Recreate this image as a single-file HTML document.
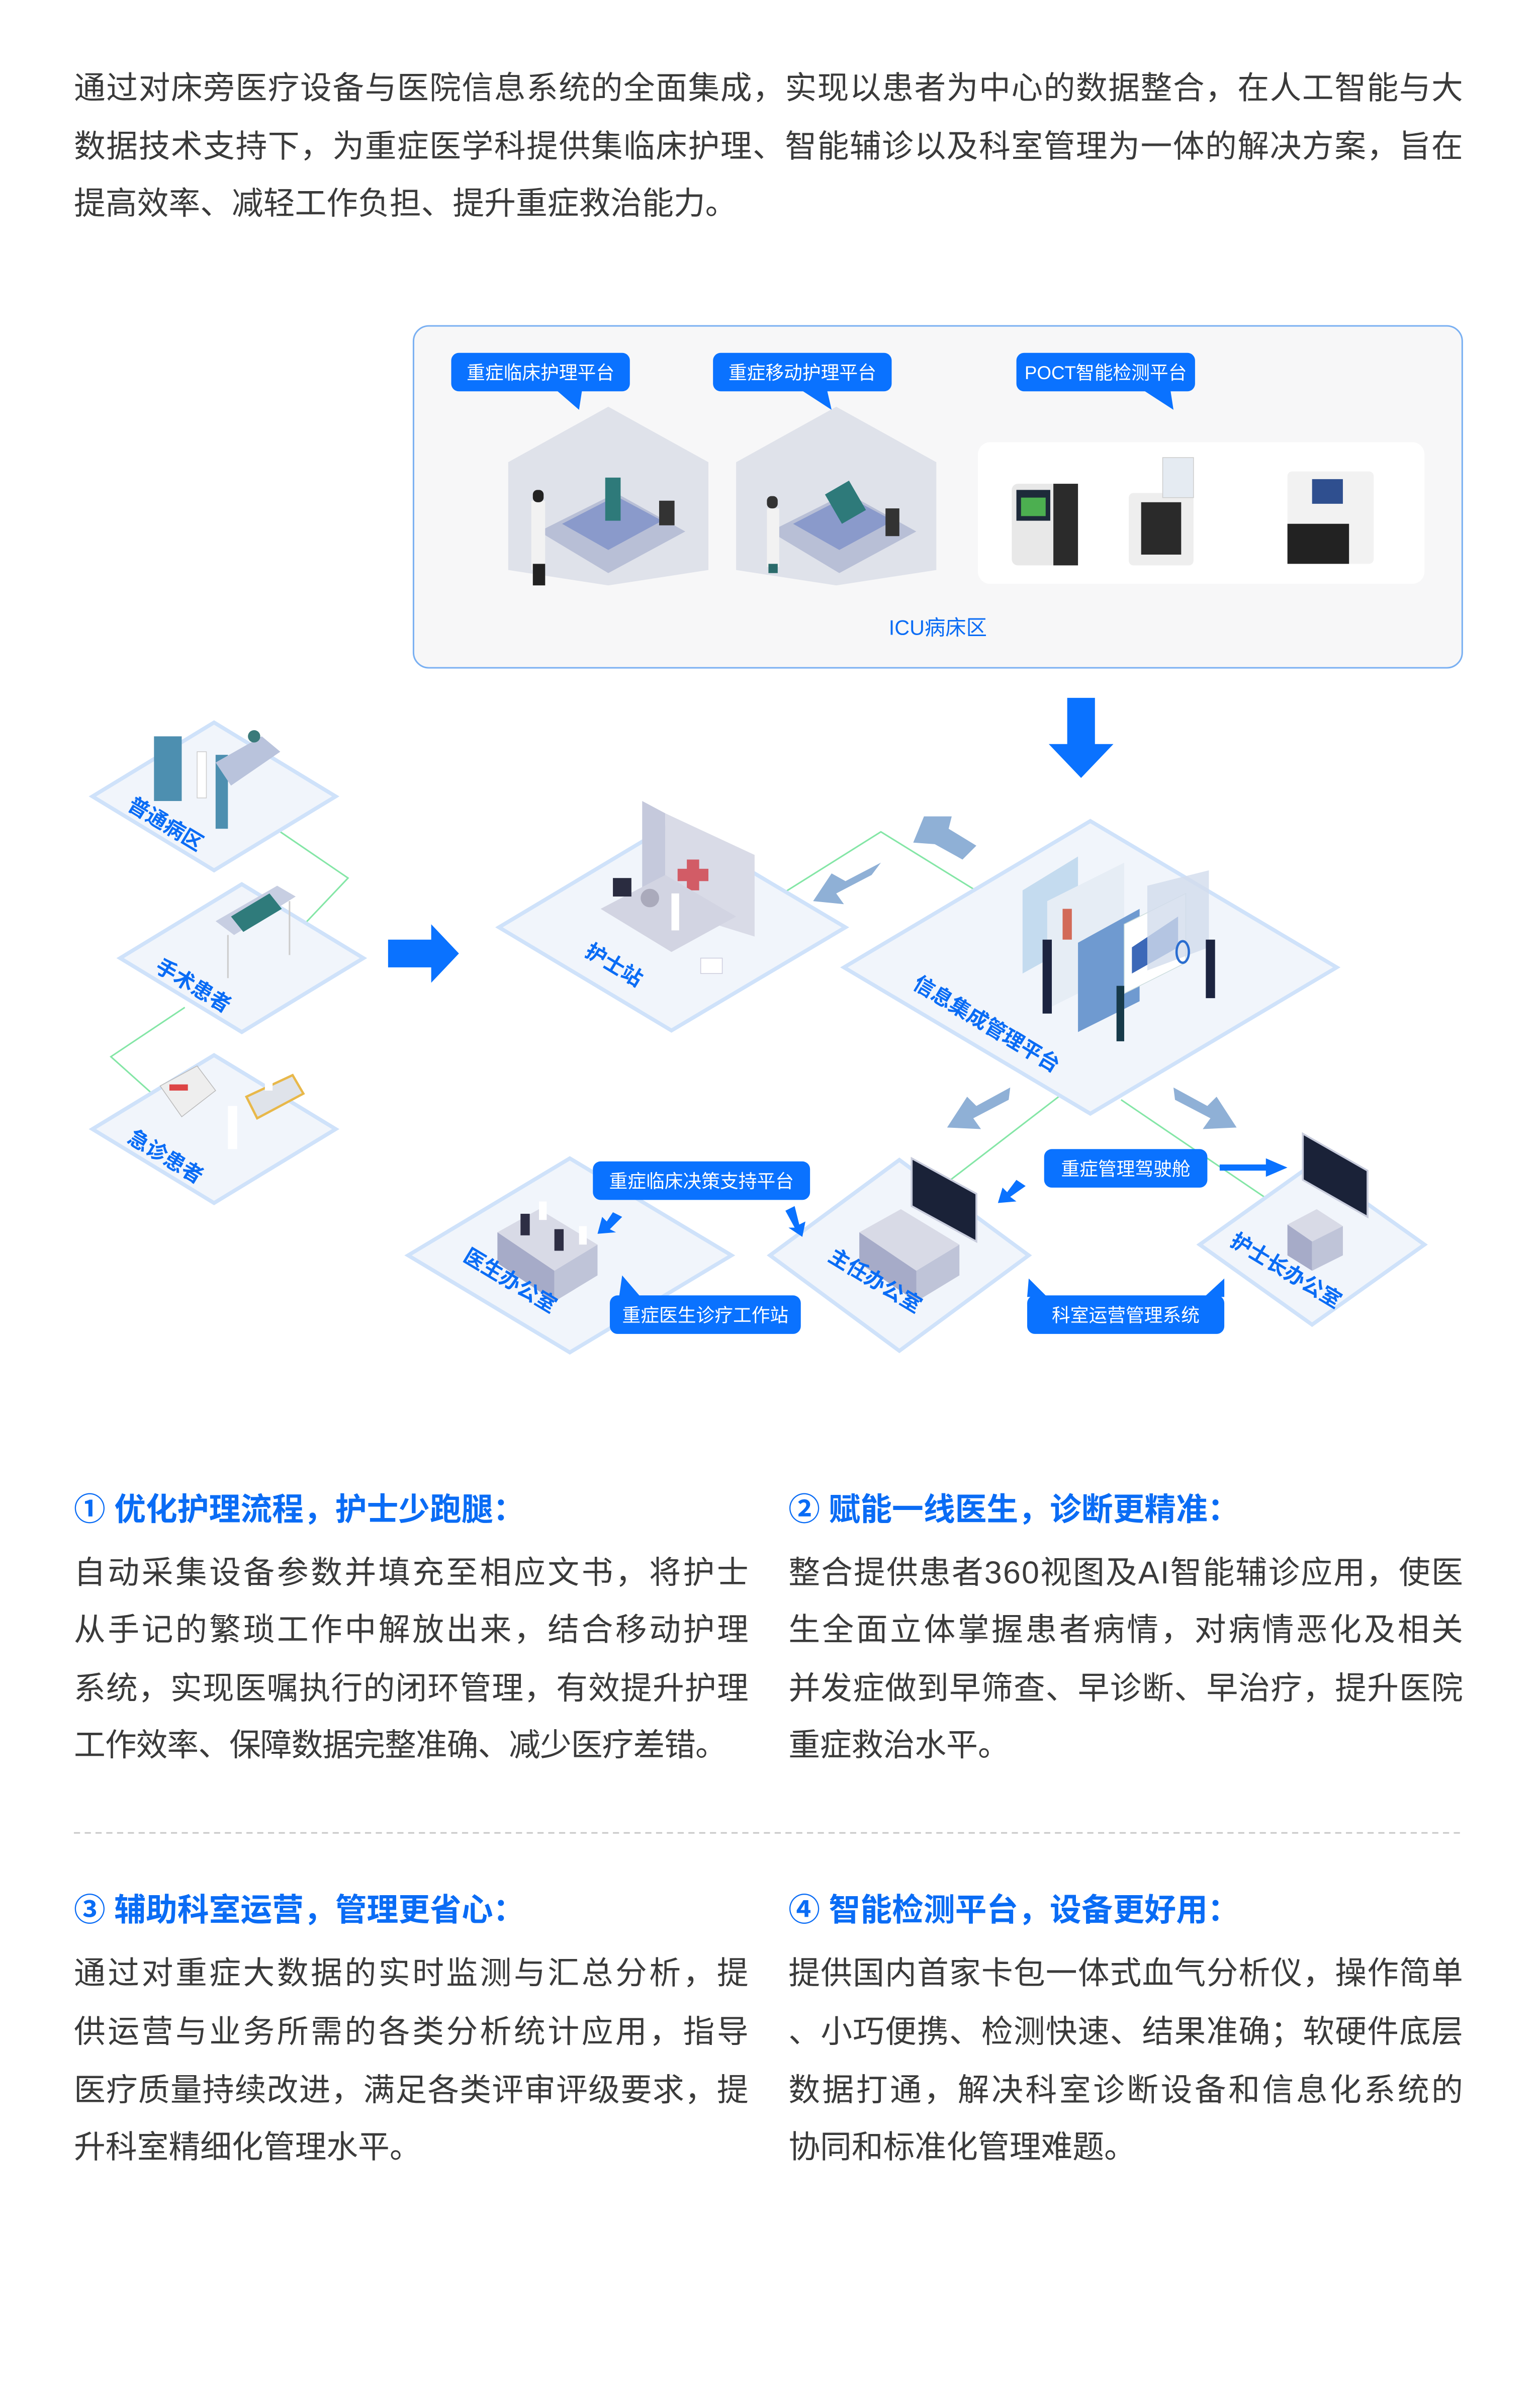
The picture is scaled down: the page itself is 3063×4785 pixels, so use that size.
<!DOCTYPE html>
<html><head><meta charset="utf-8">
<style>
html,body{margin:0;padding:0;background:#fff;}
body{width:3063px;height:4785px;overflow:hidden;}
svg{display:block;}
text{font-family:"Liberation Sans","Noto Sans CJK SC",sans-serif;}
.b{fill:#3a3a3a;font-size:20.5px;}
.h{fill:#0a6cf5;font-size:20.5px;font-weight:bold;}
.pill{fill:#fff;font-size:12px;}
.lab{fill:#0a6cf5;font-size:13.5px;font-weight:bold;}
</style></head><body>
<svg width="3063" height="4785" viewBox="0 0 1000 1562" xmlns="http://www.w3.org/2000/svg">
<defs>
<marker id="m" markerWidth="1" markerHeight="1"/>
</defs>
<!-- intro -->
<text class="b" x="48" y="64" textLength="902">通过对床旁医疗设备与医院信息系统的全面集成，实现以患者为中心的数据整合，在人工智能与大</text>
<text class="b" x="48" y="102" textLength="902">数据技术支持下，为重症医学科提供集临床护理、智能辅诊以及科室管理为一体的解决方案，旨在</text>
<text class="b" x="48" y="139">提高效率、减轻工作负担、提升重症救治能力。</text>

<!-- ICU box -->
<rect x="268.5" y="211.5" width="681" height="222" rx="10" fill="#f7f7f8" stroke="#7ab0f2" stroke-width="1"/>
<!-- wards -->
<polygon points="330,300 395,264 460,300 460,370 395,380 330,370" fill="#dfe2ea"/>
<polygon points="478,300 543,264 608,300 608,370 543,380 478,370" fill="#dfe2ea"/>
<g fill="#b8bfd6">
<polygon points="350,345 400,320 445,345 395,372"/>
<polygon points="500,345 550,320 595,345 545,372"/>
</g>
<g fill="#8a9acb"><polygon points="365,340 400,322 430,338 395,357"/><polygon points="515,340 550,322 580,338 545,357"/></g>
<rect x="345" y="325" width="9" height="45" fill="#f2f2f2"/><rect x="346" y="318" width="7" height="8" rx="3" fill="#222"/><rect x="346" y="366" width="8" height="14" fill="#222"/>
<rect x="498" y="330" width="8" height="38" fill="#f2f2f2"/><rect x="498" y="322" width="7" height="8" rx="3" fill="#333"/><rect x="499" y="366" width="6" height="6" fill="#2b6b6b"/>
<rect x="393" y="310" width="10" height="28" fill="#2e7a7a"/><rect x="540" y="315" width="18" height="22" fill="#2e7a7a" transform="rotate(-30 549 326)"/>
<rect x="428" y="325" width="10" height="16" fill="#333"/><rect x="575" y="330" width="9" height="18" fill="#333"/>
<!-- POCT -->
<rect x="635" y="287" width="290" height="92" rx="8" fill="#fff"/>
<rect x="657" y="314" width="43" height="53" rx="4" fill="#e8e8e8"/><rect x="684" y="314" width="16" height="53" fill="#2b2b2b"/><rect x="660" y="318" width="22" height="20" fill="#1d2a3a"/><rect x="663" y="323" width="16" height="12" fill="#4caf50"/>
<rect x="733" y="320" width="42" height="47" rx="3" fill="#eee"/><rect x="741" y="326" width="26" height="34" fill="#2a2a2a"/><rect x="755" y="297" width="20" height="26" fill="#e5ebf2" stroke="#ccc" stroke-width=".5"/>
<rect x="836" y="306" width="56" height="60" rx="3" fill="#f2f2f2"/><rect x="836" y="340" width="40" height="26" fill="#222"/><rect x="852" y="311" width="20" height="16" fill="#2f4f8f"/>
<!-- callouts -->
<g fill="#0a72ff">
<rect x="293" y="229" width="116" height="25" rx="5"/><polygon points="361,253 378,253 376,266"/>
<rect x="463" y="229" width="116" height="25" rx="5"/><polygon points="520,253 537,253 540,266"/>
<rect x="660" y="229" width="116" height="25" rx="5"/><polygon points="742,253 760,253 762,266"/>
</g>
<text class="pill" x="351" y="246" text-anchor="middle">重症临床护理平台</text>
<text class="pill" x="521" y="246" text-anchor="middle">重症移动护理平台</text>
<text class="pill" x="718" y="246" text-anchor="middle">POCT智能检测平台</text>
<text x="609" y="412" text-anchor="middle" fill="#0a6cf5" font-size="13.5">ICU病床区</text>

<!-- big arrows -->
<polygon points="693,453 711,453 711,483 723,483 702,505 681,483 693,483" fill="#0a72ff"/>
<polygon points="252,610 280,610 280,600 298,619 280,638 280,628 252,628" fill="#0a72ff"/>

<!-- green connectors -->
<g fill="none" stroke="#84e6a6" stroke-width="1">
<polyline points="182,540 226,570 190,608"/>
<polyline points="120,654 72,686 110,720"/>
<polyline points="505,582 572,540 640,582"/>
<polyline points="690,710 612,770"/>
<polyline points="728,714 840,790"/>
</g>

<!-- tiles -->
<g fill="#f1f5fb" stroke="#cfe2fa" stroke-width="2.5">
<polygon points="60,517 139,469 218,517 139,565"/>
<polygon points="78,622 157,574 236,622 157,670"/>
<polygon points="60,733 139,685 218,733 139,781"/>
<polygon points="324,602 436,535 549,602 436,669"/>
<polygon points="548,628 708,533 868,628 708,723"/>
<polygon points="265,815 370,752 475,815 370,878"/>
<polygon points="500,815 584,753 668,815 584,877"/>
<polygon points="779,808 852,756 925,808 852,860"/>
</g>

<!-- tile illustrations (simplified) -->
<rect x="100" y="478" width="18" height="42" fill="#4d8fb0"/><rect x="140" y="490" width="8" height="48" fill="#4d8fb0"/>
<polygon points="140,495 170,478 182,488 150,510" fill="#b9c3dc"/><rect x="128" y="488" width="6" height="30" fill="#fff" stroke="#ccc" stroke-width=".5"/><circle cx="165" cy="478" r="4" fill="#3a7a7a"/>
<polygon points="140,598 180,575 192,582 152,607" fill="#c7cee2"/><polygon points="150,595 175,580 183,590 158,605" fill="#2f7b7b"/><line x1="148" y1="607" x2="148" y2="635" stroke="#ccc"/><line x1="188" y1="585" x2="188" y2="620" stroke="#ccc"/>
<polygon points="104,705 128,692 140,708 118,725" fill="#eee" stroke="#bbb" stroke-width=".5"/><rect x="110" y="704" width="12" height="4" fill="#d44"/><polygon points="160,712 190,698 197,710 167,726" fill="#dfe3ea" stroke="#e8b84a" stroke-width="1.5"/><rect x="148" y="718" width="6" height="28" fill="#fff"/><rect x="172" y="684" width="5" height="24" fill="#fff"/>
<!-- nurse station -->
<polygon points="417,520 432,528 432,590 417,582" fill="#c5c9dc"/><polygon points="432,528 490,555 490,608 432,590" fill="#d9dbe7"/><rect x="446" y="558" width="8" height="20" fill="#d25c66"/><rect x="440" y="564" width="20" height="8" fill="#d25c66"/>
<polygon points="390,590 432,568 478,595 436,618" fill="#d2d4e2"/><rect x="398" y="570" width="12" height="12" fill="#2a2c40"/><circle cx="422" cy="583" r="6" fill="#aab"/><rect x="436" y="580" width="5" height="24" fill="#fff"/><rect x="455" y="622" width="14" height="10" fill="#fff" stroke="#ccd" stroke-width=".5"/>
<!-- info platform -->
<polygon points="664,578 700,556 700,612 664,632" fill="#bcd6ec" opacity=".85"/><polygon points="680,585 730,560 730,630 680,655" fill="#e6edf5"/><rect x="690" y="590" width="6" height="20" fill="#d26a58"/>
<polygon points="700,612 740,590 740,650 700,670" fill="#6f9ad0"/><polygon points="730,600 770,580 770,625 730,645" fill="#fff" stroke="#cdd" stroke-width=".5"/><polygon points="735,615 765,595 765,615 735,632" fill="#3c68b8"/>
<polygon points="745,575 785,565 785,615 745,630" fill="#d2dcec" opacity=".8"/><ellipse cx="768" cy="618" rx="4" ry="7" fill="none" stroke="#2a6dd0" stroke-width="1.5"/>
<rect x="677" y="610" width="6" height="48" fill="#1c2440"/><rect x="725" y="640" width="5" height="36" fill="#173a4a"/><rect x="783" y="610" width="6" height="38" fill="#1c2440"/>
<!-- offices -->
<polygon points="323,800 350,785 388,808 360,825" fill="#d8dae6"/><polygon points="323,800 360,825 360,845 323,820" fill="#a6abc8"/><polygon points="360,825 388,808 388,828 360,845" fill="#bfc4d8"/>
<rect x="338" y="788" width="6" height="14" fill="#2e2e44"/><rect x="360" y="798" width="6" height="14" fill="#2e2e44"/><rect x="350" y="780" width="5" height="12" fill="#fff"/><rect x="376" y="796" width="5" height="12" fill="#fff"/>
<polygon points="558,800 585,785 623,808 595,825" fill="#d8dae6"/><polygon points="558,800 595,825 595,845 558,820" fill="#a6abc8"/><polygon points="595,825 623,808 623,828 595,845" fill="#bfc4d8"/>
<polygon points="592,752 634,775 634,806 592,783" fill="#1a2238" stroke="#c8ccdc" stroke-width="1.2"/>
<polygon points="836,795 855,785 872,796 852,806" fill="#d8dae6"/><polygon points="836,795 852,806 852,825 836,815" fill="#a6abc8"/><polygon points="852,806 872,796 872,815 852,825" fill="#bfc4d8"/>
<polygon points="846,736 888,760 888,790 846,766" fill="#1a2238" stroke="#c8ccdc" stroke-width="1.2"/>

<!-- tile labels -->
<text class="lab" transform="translate(82,525) rotate(31)">普通病区</text>
<text class="lab" transform="translate(100,630) rotate(31)">手术患者</text>
<text class="lab" transform="translate(82,741) rotate(31)">急诊患者</text>
<text class="lab" transform="translate(379,620) rotate(31)">护士站</text>
<text class="lab" transform="translate(592,641) rotate(31)">信息集成管理平台</text>
<text class="lab" transform="translate(300,818) rotate(31)">医生办公室</text>
<text class="lab" transform="translate(537,818) rotate(31)">主任办公室</text>
<text class="lab" transform="translate(798,808) rotate(31)">护士长办公室</text>

<!-- gray-blue arrows -->
<g fill="#8fb0d6">
<polygon points="600,530 593,547 607,548 625,558 634,549 616,538 618,530"/>
<polygon points="572,560 549,572 540,567 528,585 548,587 543,580 566,568"/>
<polygon points="656,706 634,718 628,712 615,732 637,733 632,726 655,714"/>
<polygon points="762,706 784,718 790,712 803,732 781,733 786,726 763,714"/>
</g>

<!-- bottom pills & small arrows -->
<g fill="#0a72ff">
<rect x="385" y="754" width="141" height="25" rx="5"/>
<rect x="396" y="841" width="124" height="25" rx="5"/><polygon points="402,842 416,842 404,828"/>
<rect x="678" y="746" width="106" height="25" rx="5"/>
<rect x="667" y="841" width="128" height="25" rx="5"/><polygon points="667,842 680,842 668,830"/><polygon points="782,842 795,842 795,830"/>
<polygon points="398,787 404,790 396,798 400,800 388,801 391,790 394,793"/>
<polygon points="510,786 516,783 519,795 523,793 521,803 512,797 516,797"/>
<polygon points="660,766 666,770 656,777 660,780 648,781 651,771 654,774"/>
<polygon points="792,756 822,756 822,752 836,758 822,764 822,760 792,760"/>
</g>
<text class="pill" x="455.5" y="771" text-anchor="middle">重症临床决策支持平台</text>
<text class="pill" x="458" y="858" text-anchor="middle">重症医生诊疗工作站</text>
<text class="pill" x="731" y="763" text-anchor="middle">重症管理驾驶舱</text>
<text class="pill" x="731" y="858" text-anchor="middle">科室运营管理系统</text>

<!-- section 1/2 -->
<text class="h" x="48" y="987">① 优化护理流程，护士少跑腿：</text>
<text class="h" x="512" y="987">② 赋能一线医生，诊断更精准：</text>
<text class="b" x="48" y="1028" textLength="438">自动采集设备参数并填充至相应文书，将护士</text>
<text class="b" x="48" y="1065" textLength="438">从手记的繁琐工作中解放出来，结合移动护理</text>
<text class="b" x="48" y="1103" textLength="438">系统，实现医嘱执行的闭环管理，有效提升护理</text>
<text class="b" x="48" y="1140" textLength="424">工作效率、保障数据完整准确、减少医疗差错。</text>
<text class="b" x="512" y="1028" textLength="438">整合提供患者360视图及AI智能辅诊应用，使医</text>
<text class="b" x="512" y="1065" textLength="438">生全面立体掌握患者病情，对病情恶化及相关</text>
<text class="b" x="512" y="1103" textLength="438">并发症做到早筛查、早诊断、早治疗，提升医院</text>
<text class="b" x="512" y="1140">重症救治水平。</text>

<line x1="48" y1="1190" x2="950" y2="1190" stroke="#c8c8c8" stroke-width="1" stroke-dasharray="4,3"/>

<!-- section 3/4 -->
<text class="h" x="48" y="1247">③ 辅助科室运营，管理更省心：</text>
<text class="h" x="512" y="1247">④ 智能检测平台，设备更好用：</text>
<text class="b" x="48" y="1288" textLength="438">通过对重症大数据的实时监测与汇总分析，提</text>
<text class="b" x="48" y="1326" textLength="438">供运营与业务所需的各类分析统计应用，指导</text>
<text class="b" x="48" y="1364" textLength="438">医疗质量持续改进，满足各类评审评级要求，提</text>
<text class="b" x="48" y="1401">升科室精细化管理水平。</text>
<text class="b" x="512" y="1288" textLength="438">提供国内首家卡包一体式血气分析仪，操作简单</text>
<text class="b" x="512" y="1326" textLength="438">、小巧便携、检测快速、结果准确；软硬件底层</text>
<text class="b" x="512" y="1364" textLength="438">数据打通，解决科室诊断设备和信息化系统的</text>
<text class="b" x="512" y="1401">协同和标准化管理难题。</text>
</svg>
</body></html>
